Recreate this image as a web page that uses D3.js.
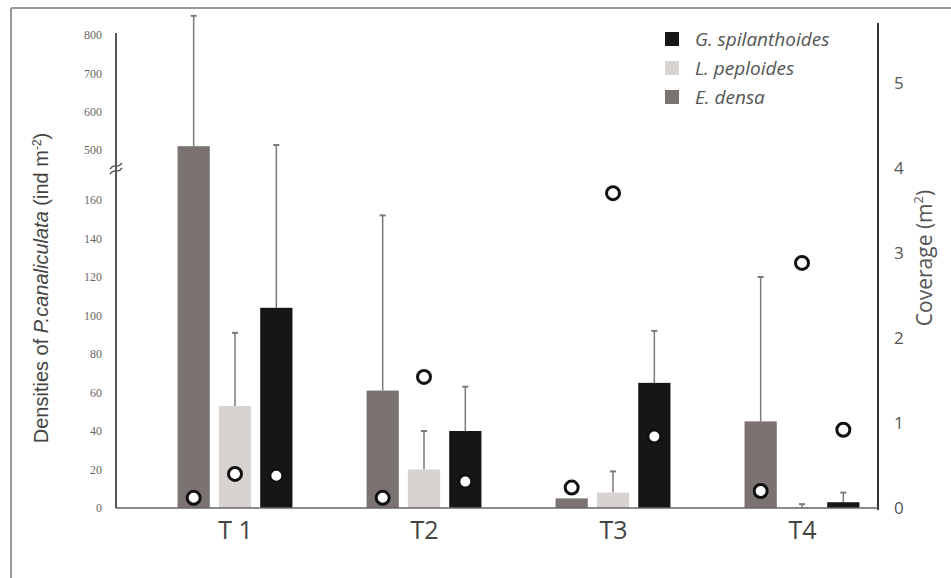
<!DOCTYPE html>
<html>
<head>
<meta charset="utf-8">
<script src="https://cdn.jsdelivr.net/npm/d3@7"></script>
<style>
  html, body { margin: 0; padding: 0; background: #fff; }
  svg { display: block; }
</style>
</head>
<body>
<svg id="chart" width="951" height="578"></svg>
<script>
// ---------------- data ----------------
const categories = ["T 1", "T2", "T3", "T4"];
const seriesNames = ["E. densa", "L. peploides", "G. spilanthoides"];
const legendOrder = ["G. spilanthoides", "L. peploides", "E. densa"];

// densities of P. canaliculata (ind m-2), mean
const densityEDensa = [510, 61, 5, 45];
const densityLPeploides = [53, 20, 8, 0.5];
const densityGSpilanthoides = [104, 40, 65, 3];
// upper error (SE)
const errorEDensa = [340, 91, 0, 75];
const errorLPeploides = [38, 20, 11, 1.5];
const errorGSpilanthoides = [409, 23, 27, 5];
// coverage (m2)
const coverageEDensa = [0.12, 0.12, 0.24, 0.2];
const coverageLPeploides = [0.4, 1.54, 3.7, 2.88];
const coverageGSpilanthoides = [0.38, 0.31, 0.84, 0.92];

const leftTicksLower = [0, 20, 40, 60, 80, 100, 120, 140, 160];
const leftTicksUpper = [500, 600, 700, 800];
const rightTicks = [0, 1, 2, 3, 4, 5];

const colors = { "E. densa": "#7b7371", "L. peploides": "#d8d2d0", "G. spilanthoides": "#181614" };

const table = seriesNames.map((s, si) => ({
  name: s,
  mean: [densityEDensa, densityLPeploides, densityGSpilanthoides][si],
  err: [errorEDensa, errorLPeploides, errorGSpilanthoides][si],
  cover: [coverageEDensa, coverageLPeploides, coverageGSpilanthoides][si]
}));

// ---------------- layout ----------------
const svg = d3.select("#chart");
const baseY = 508, axisL = 116, axisR = 878;

// frame
svg.append("line").attr("x1", 11).attr("x2", 951).attr("y1", 8).attr("y2", 8)
  .attr("stroke", "#9a9a9a").attr("stroke-width", 2);
svg.append("line").attr("x1", 11).attr("x2", 11).attr("y1", 8).attr("y2", 578)
  .attr("stroke", "#9a9a9a").attr("stroke-width", 2);

// scales
const xGroup = d3.scalePoint().domain(categories).range([235, 802]);
const xInner = d3.scaleBand().domain(seriesNames).range([-62, 62]).paddingInner(0.22).paddingOuter(0.11);
const y = d3.scaleLinear().domain([0, 160, 500, 800]).range([baseY, 200, 150, 35]);
const yR = d3.scaleLinear().domain([0, 5.7]).range([baseY, 23]);

// left axis
const leftAxis = d3.axisLeft(y).tickValues([...leftTicksLower, ...leftTicksUpper]).tickSize(0).tickPadding(14);
const gL = svg.append("g").attr("transform", `translate(${axisL},0)`).call(leftAxis);
gL.select(".domain").remove();
gL.selectAll("text").attr("font-family", "Liberation Serif, serif").attr("font-size", 12).attr("fill", "#6f6560");
svg.append("line").attr("x1", axisL).attr("x2", axisL).attr("y1", y(800) - 2).attr("y2", baseY)
  .attr("stroke", "#555").attr("stroke-width", 2);
// axis break marks
[0, 5].forEach(o => {
  svg.append("path")
    .attr("d", `M${axisL - 6},${169 + o} q3,-4 6,-3 t6,-3`)
    .attr("fill", "none").attr("stroke", "#555").attr("stroke-width", 1.3);
});

// right axis
const rightAxis = d3.axisRight(yR).tickValues(rightTicks).tickSize(0).tickPadding(16).tickFormat(d3.format("d"));
const gR = svg.append("g").attr("transform", `translate(${axisR},0)`).call(rightAxis);
gR.select(".domain").remove();
gR.selectAll("text").attr("font-family", "Open Sans, sans-serif").attr("font-size", 17).attr("fill", "#555");
svg.append("line").attr("x1", axisR).attr("x2", axisR).attr("y1", 23).attr("y2", baseY + 2)
  .attr("stroke", "#333").attr("stroke-width", 2);

// bottom axis
const bottomAxis = d3.axisBottom(xGroup).tickSize(0).tickPadding(13);
const gB = svg.append("g").attr("transform", `translate(0,${baseY})`).call(bottomAxis);
gB.select(".domain").remove();
gB.selectAll("text").attr("font-family", "Open Sans, sans-serif").attr("font-size", 25).attr("fill", "#444");

// bars
const groups = svg.append("g");
table.forEach(s => {
  categories.forEach((c, i) => {
    const cx = xGroup(c) + xInner(s.name) + xInner.bandwidth() / 2;
    const x0 = xGroup(c) + xInner(s.name);
    const yTop = y(s.mean[i]);
    if (s.err[i] > 0) {
      const yE = y(s.mean[i] + s.err[i]);
      groups.append("line").attr("x1", cx).attr("x2", cx).attr("y1", yTop).attr("y2", yE)
        .attr("stroke", "#7a7a7a").attr("stroke-width", 1.5);
      groups.append("line").attr("x1", cx - 3).attr("x2", cx + 3).attr("y1", yE).attr("y2", yE)
        .attr("stroke", "#7a7a7a").attr("stroke-width", 2);
    }
    groups.append("rect")
      .attr("x", x0).attr("y", yTop)
      .attr("width", xInner.bandwidth()).attr("height", baseY - yTop)
      .attr("fill", colors[s.name]);
  });
});
// baseline
svg.append("line").attr("x1", axisL).attr("x2", axisR).attr("y1", baseY).attr("y2", baseY)
  .attr("stroke", "#666").attr("stroke-width", 1.5);

// coverage circles
table.forEach(s => {
  categories.forEach((c, i) => {
    const cx = xGroup(c) + xInner(s.name) + xInner.bandwidth() / 2;
    svg.append("circle").attr("cx", cx).attr("cy", yR(s.cover[i])).attr("r", 6.5)
      .attr("fill", "#fff").attr("stroke", "#111").attr("stroke-width", 3);
  });
});

// legend
const lg = svg.append("g");
legendOrder.forEach((name, i) => {
  const yy = 39 + i * 29;
  lg.append("rect").attr("x", 665).attr("y", yy - 7).attr("width", 14).attr("height", 14).attr("fill", colors[name]);
  lg.append("text").attr("x", 695).attr("y", yy).attr("dy", "0.35em")
    .attr("font-family", "Open Sans, sans-serif").attr("font-style", "italic").attr("font-size", 19)
    .attr("fill", "#555").text(name);
});

// axis titles
const tL = svg.append("text")
  .attr("transform", "translate(48,288) rotate(-90)")
  .attr("text-anchor", "middle")
  .attr("font-family", "Liberation Sans, Arial, sans-serif").attr("font-size", 20).attr("fill", "#444");
tL.append("tspan").text("Densities of ");
tL.append("tspan").attr("font-style", "italic").text("P.canaliculata");
tL.append("tspan").text(" (ind m");
tL.append("tspan").attr("baseline-shift", "super").attr("font-size", 12).text("-2");
tL.append("tspan").text(")");

const tR = svg.append("text")
  .attr("transform", "translate(932,258) rotate(-90)")
  .attr("text-anchor", "middle")
  .attr("font-family", "Open Sans, sans-serif").attr("font-size", 21).attr("fill", "#555");
tR.append("tspan").text("Coverage (m");
tR.append("tspan").attr("baseline-shift", "super").attr("font-size", 13).text("2");
tR.append("tspan").text(")");
</script>
</body>
</html>
